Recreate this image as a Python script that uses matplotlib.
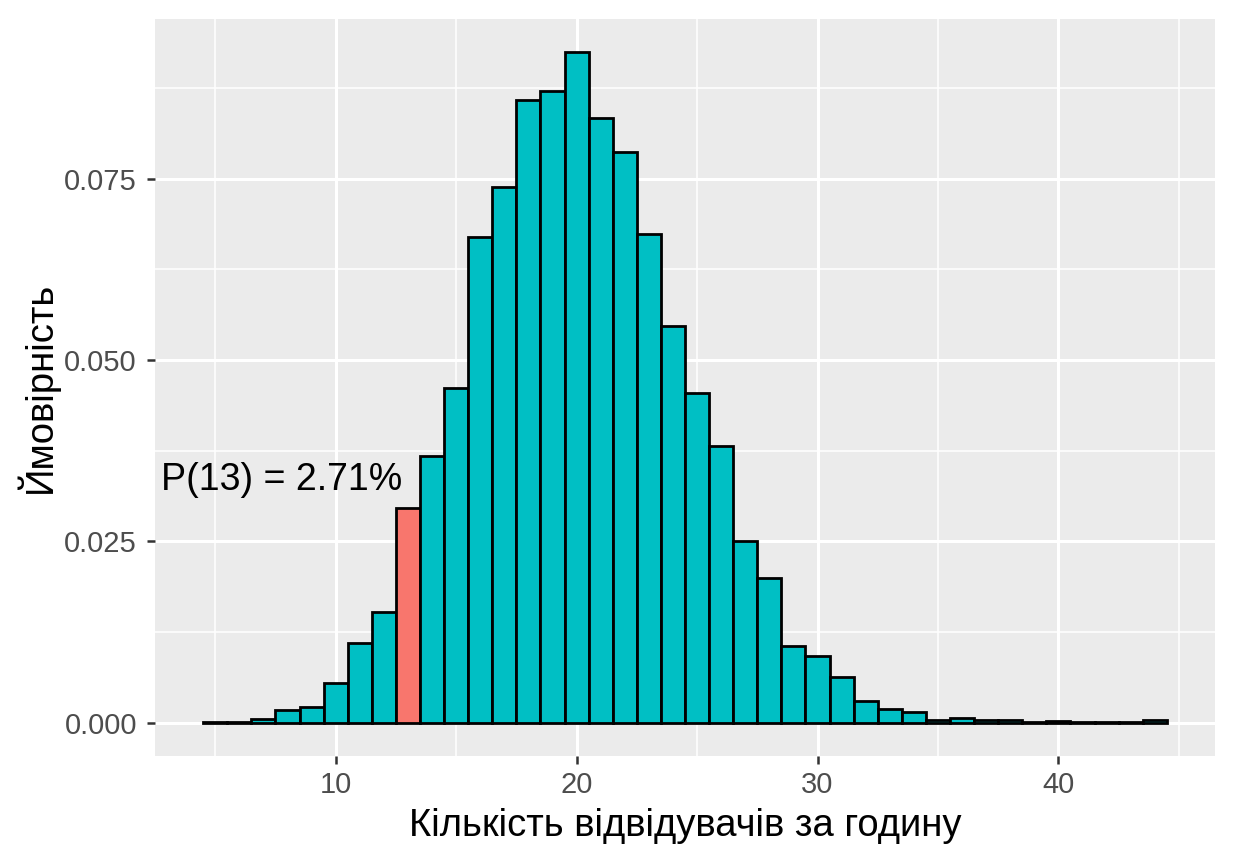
import matplotlib
matplotlib.use("Agg")
import matplotlib.pyplot as plt
import numpy as np

visitors = list(range(5, 45))
probability = [0.0001, 0.0001, 0.0005, 0.0018, 0.0021, 0.0055, 0.0110, 0.0153, 0.0296, 0.0368,
               0.0461, 0.0669, 0.0739, 0.0859, 0.0871, 0.0924, 0.0833, 0.0786, 0.0673, 0.0547,
               0.0455, 0.0382, 0.0251, 0.0200, 0.0106, 0.0092, 0.0063, 0.0030, 0.0019, 0.0014,
               0.0004, 0.0006, 0.0004, 0.0003, 0.0001, 0.0002, 0.0001, 0.0001, 0.0001, 0.0003]
highlight = 13
label_text = "P(13) = 2.71%"
x_ticks = [10, 20, 30, 40]
y_ticks = [0.000, 0.025, 0.050, 0.075]
y_ticklabels = ["0.000", "0.025", "0.050", "0.075"]

plt.rcParams['font.family'] = ['Liberation Sans', 'DejaVu Sans']

fig = plt.figure(figsize=(12.34, 8.64), dpi=100)
ax = fig.add_axes([155/1234, 1 - 756/864, (1215-155)/1234, (756-19)/864])
ax.set_facecolor('#EBEBEB')
for s in ax.spines.values():
    s.set_visible(False)

colors = ['#F8766D' if v == highlight else '#00BFC4' for v in visitors]
ax.bar(visitors, probability, width=1.0, color=colors, edgecolor='black', linewidth=2.0, zorder=3)

ax.text(12.75, 0.0335, label_text, ha='right', va='center', fontsize=27, color='black', zorder=4)

ax.set_xlim(2.5, 46.5)
ax.set_ylim(-0.0046, 0.0970)
ax.set_xticks(x_ticks)
ax.set_yticks(y_ticks)
ax.set_yticklabels(y_ticklabels)
ax.set_xticks([5, 15, 25, 35, 45], minor=True)
ax.set_yticks([0.0125, 0.0375, 0.0625, 0.0875], minor=True)
ax.grid(which='major', color='white', linewidth=2.2, zorder=0)
ax.grid(which='minor', color='white', linewidth=1.1, zorder=0)
ax.set_axisbelow(True)
ax.tick_params(which='major', length=6, width=1.8, color='#333333', labelsize=21,
               labelcolor='#4D4D4D')
ax.tick_params(axis='y', which='major', pad=7)
ax.tick_params(axis='x', which='major', pad=5)
ax.tick_params(which='minor', length=0)

ax.set_xlabel("Кількість відвідувачів за годину", fontsize=27.5, color='black', labelpad=6)
ax.set_ylabel("Ймовірність", fontsize=27.5, color='black', labelpad=4)

fig.savefig("out.png", dpi=100, facecolor='white')
